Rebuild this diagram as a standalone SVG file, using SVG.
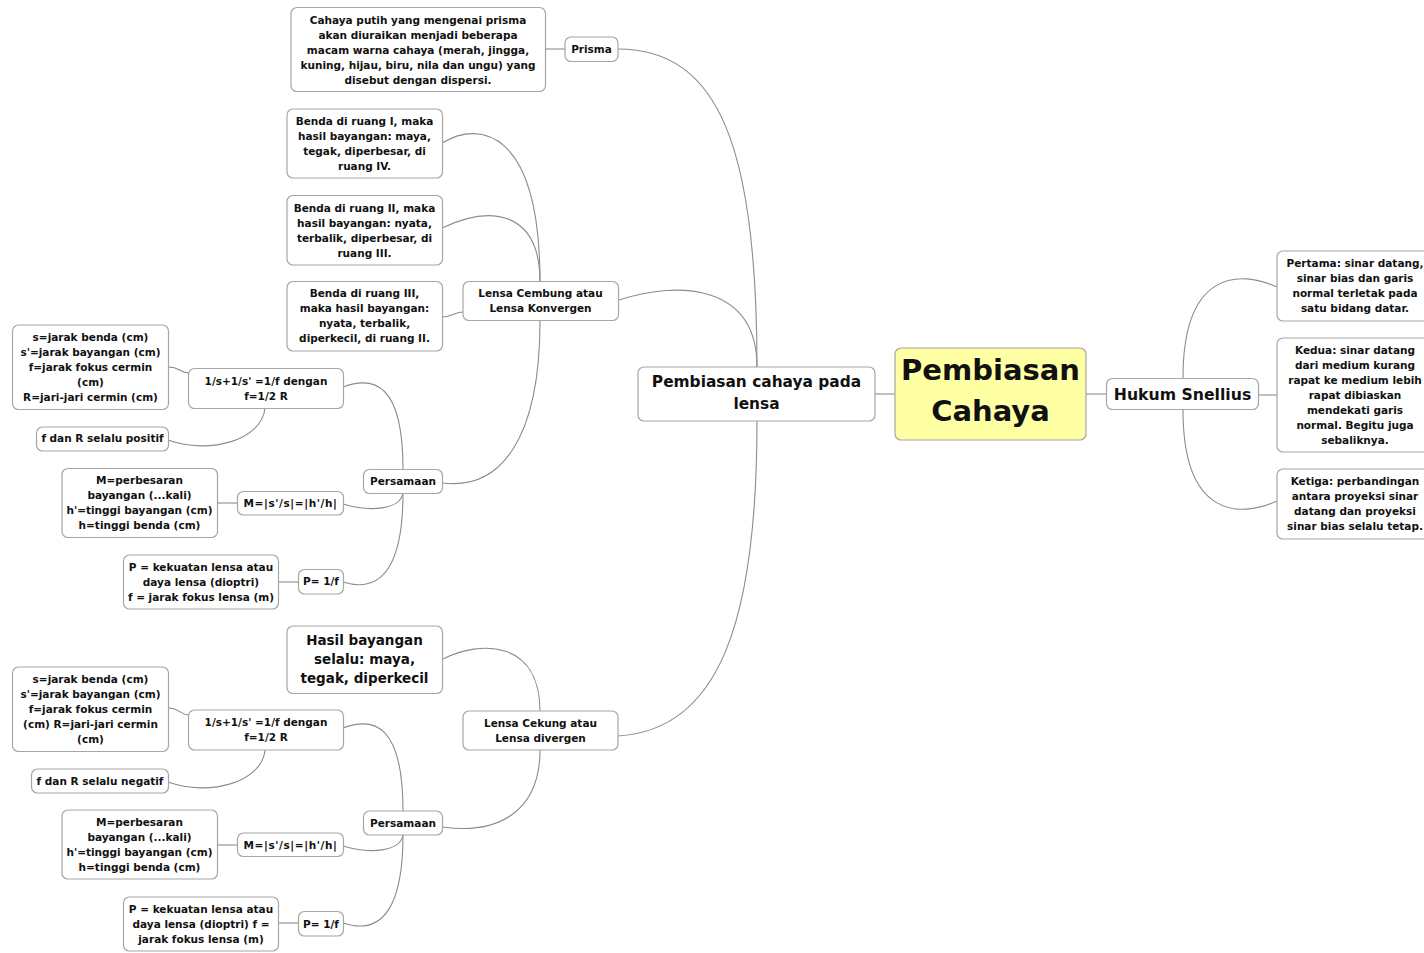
<svg xmlns="http://www.w3.org/2000/svg" width="1424" height="953" viewBox="0 0 1424 953">
<style>
.n{fill:#fff;stroke:#a6a6a6;stroke-width:1.2}
.c{fill:#ffffa3;stroke:#a6a6a6;stroke-width:1.2}
text{font-family:"DejaVu Sans",Verdana,sans-serif;font-weight:bold;fill:#111;text-anchor:middle}
.s{font-size:10.5px}
.m{font-size:13.5px}
.l{font-size:15.4px}
.h{font-size:29px}
.w{letter-spacing:0.6px}
.e path{fill:none;stroke:#8c8c8c;stroke-width:1.1}
</style>
<rect width="1424" height="953" fill="#fff"/>
<g class="e" id="connectors">
<path d="M875,394 L895,394"/>
<path d="M1086,394 L1106,394"/>
<path d="M1183,378 C1183,270 1240,270 1277,287"/>
<path d="M1259,395 L1277,395"/>
<path d="M1183,410 C1183,518 1240,518 1277,501"/>
<path d="M757,367 C757,150 720,49 618,49"/>
<path d="M545,49 L565,49"/>
<path d="M619,300 C680,280 757,285 757,367"/>
<path d="M757,421 C757,620 720,730 618,736"/>
<path d="M442,143 C480,120 540,130 540,282"/>
<path d="M442,228 C490,205 540,210 540,282"/>
<path d="M442,317 C452,317 455,312 463,312"/>
<path d="M540,321 C540,440 500,490 443,483"/>
<path d="M343,387 C375,375 403,385 403,469"/>
<path d="M168,367 C180,367 180,373 189,373"/>
<path d="M265,408 C262,440 210,455 168,440"/>
<path d="M403,493 C400,510 370,512 343,504"/>
<path d="M217,503 L237,503"/>
<path d="M403,493 C403,560 385,595 343,582"/>
<path d="M278,582 L298,582"/>
<path d="M443,659 C480,640 540,640 540,711"/>
<path d="M540,750 C540,810 500,835 443,827"/>
<path d="M343,728 C375,716 403,726 403,811"/>
<path d="M168,708 C180,708 180,715 189,715"/>
<path d="M265,750 C262,782 210,797 168,782"/>
<path d="M403,835 C400,852 370,854 343,846"/>
<path d="M217,845 L237,845"/>
<path d="M403,835 C403,902 385,937 343,923"/>
<path d="M278,923 L298,923"/>
</g>
<g id="central"><rect class="c" x="895" y="348" width="191" height="92" rx="6"/><text class="h" x="990.5" y="380">Pembiasan</text><text class="h" x="990.5" y="421">Cahaya</text></g>
<g id="lensa"><rect class="n" x="638" y="367" width="237" height="54" rx="6"/><text class="l" x="756.5" y="387">Pembiasan cahaya pada</text><text class="l" x="756.5" y="409">lensa</text></g>
<g id="snellius"><rect class="n" x="1106.5" y="378.5" width="152" height="31" rx="6"/><text class="l" x="1182.5" y="399.5" style="font-size:15.7px">Hukum Snellius</text></g>
<g id="pertama"><rect class="n" x="1277" y="251" width="156" height="70" rx="6"/><text class="s" x="1355" y="267">Pertama: sinar datang,</text><text class="s" x="1355" y="282">sinar bias dan garis</text><text class="s" x="1355" y="297">normal terletak pada</text><text class="s" x="1355" y="312">satu bidang datar.</text></g>
<g id="kedua"><rect class="n" x="1277" y="338" width="156" height="114" rx="6"/><text class="s" x="1355" y="353.5">Kedua: sinar datang</text><text class="s" x="1355" y="368.5">dari medium kurang</text><text class="s" x="1355" y="383.5">rapat ke medium lebih</text><text class="s" x="1355" y="398.5">rapat dibiaskan</text><text class="s" x="1355" y="413.5">mendekati garis</text><text class="s" x="1355" y="428.5">normal. Begitu juga</text><text class="s" x="1355" y="443.5">sebaliknya.</text></g>
<g id="ketiga"><rect class="n" x="1277" y="469" width="156" height="70" rx="6"/><text class="s" x="1355" y="485">Ketiga: perbandingan</text><text class="s" x="1355" y="500">antara proyeksi sinar</text><text class="s" x="1355" y="515">datang dan proyeksi</text><text class="s" x="1355" y="530">sinar bias selalu tetap.</text></g>
<g id="prisma"><rect class="n" x="565" y="37" width="53" height="24.5" rx="6"/><text class="s" x="591.5" y="53">Prisma</text></g>
<g id="dispersi"><rect class="n" x="291" y="7.5" width="254.5" height="84" rx="6"/><text class="s" x="418" y="24">Cahaya putih yang mengenai prisma</text><text class="s" x="418" y="39">akan diuraikan menjadi beberapa</text><text class="s" x="418" y="54">macam warna cahaya (merah, jingga,</text><text class="s" x="418" y="69">kuning, hijau, biru, nila dan ungu) yang</text><text class="s" x="418" y="84">disebut dengan dispersi.</text></g>
<g id="cembung"><rect class="n" x="463" y="281.5" width="155.5" height="39" rx="6"/><text class="s" x="540.5" y="297">Lensa Cembung atau</text><text class="s" x="540.5" y="312">Lensa Konvergen</text></g>
<g id="ruang1"><rect class="n" x="287" y="109" width="155.5" height="69" rx="6"/><text class="s" x="364.5" y="125">Benda di ruang I, maka</text><text class="s" x="364.5" y="140">hasil bayangan: maya,</text><text class="s" x="364.5" y="155">tegak, diperbesar, di</text><text class="s" x="364.5" y="170">ruang IV.</text></g>
<g id="ruang2"><rect class="n" x="287" y="195.5" width="155.5" height="69.5" rx="6"/><text class="s" x="364.5" y="211.5">Benda di ruang II, maka</text><text class="s" x="364.5" y="226.5">hasil bayangan: nyata,</text><text class="s" x="364.5" y="241.5">terbalik, diperbesar, di</text><text class="s" x="364.5" y="256.5">ruang III.</text></g>
<g id="ruang3"><rect class="n" x="287" y="281.5" width="155.5" height="69.5" rx="6"/><text class="s" x="364.5" y="297">Benda di ruang III,</text><text class="s" x="364.5" y="312">maka hasil bayangan:</text><text class="s" x="364.5" y="327">nyata, terbalik,</text><text class="s" x="364.5" y="342">diperkecil, di ruang II.</text></g>
<g id="persamaan1"><rect class="n" x="363.5" y="469.5" width="79" height="24" rx="6"/><text class="s" x="403" y="485">Persamaan</text></g>
<g id="rumus1"><rect class="n" x="188.5" y="368.5" width="155" height="40" rx="6"/><text class="s" x="266" y="384.5">1/s+1/s' =1/f dengan</text><text class="s" x="266" y="399.5">f=1/2 R</text></g>
<g id="ket1"><rect class="n" x="12.5" y="325" width="156" height="84.5" rx="6"/><text class="s" x="90.5" y="341">s=jarak benda (cm)</text><text class="s" x="90.5" y="356">s'=jarak bayangan (cm)</text><text class="s" x="90.5" y="371">f=jarak fokus cermin</text><text class="s" x="90.5" y="386">(cm)</text><text class="s" x="90.5" y="401">R=jari-jari cermin (cm)</text></g>
<g id="positif"><rect class="n" x="36.5" y="427" width="132" height="24" rx="6"/><text class="s" x="102.5" y="442">f dan R selalu positif</text></g>
<g id="mag1"><rect class="n" x="237.5" y="491.5" width="106" height="23.5" rx="6"/><text class="s w" x="290.5" y="507">M=|s'/s|=|h'/h|</text></g>
<g id="magket1"><rect class="n" x="62" y="468.5" width="155.5" height="69" rx="6"/><text class="s" x="139.5" y="484">M=perbesaran</text><text class="s" x="139.5" y="499">bayangan (...kali)</text><text class="s" x="139.5" y="514">h'=tinggi bayangan (cm)</text><text class="s" x="139.5" y="529">h=tinggi benda (cm)</text></g>
<g id="p1"><rect class="n" x="298.5" y="569.5" width="45" height="24.5" rx="6"/><text class="s" x="321" y="585">P= 1/f</text></g>
<g id="pket1"><rect class="n" x="123.5" y="555" width="155" height="54" rx="6"/><text class="s" x="201" y="571">P = kekuatan lensa atau</text><text class="s" x="201" y="586">daya lensa (dioptri)</text><text class="s" x="201" y="601">f = jarak fokus lensa (m)</text></g>
<g id="cekung"><rect class="n" x="463" y="711" width="155" height="39" rx="6"/><text class="s" x="540.5" y="726.5">Lensa Cekung atau</text><text class="s" x="540.5" y="741.5">Lensa divergen</text></g>
<g id="hasil"><rect class="n" x="287" y="626" width="155.5" height="67.5" rx="6"/><text class="m" x="364.5" y="645">Hasil bayangan</text><text class="m" x="364.5" y="664">selalu: maya,</text><text class="m" x="364.5" y="683">tegak, diperkecil</text></g>
<g id="persamaan2"><rect class="n" x="363.5" y="811" width="79" height="24" rx="6"/><text class="s" x="403" y="826.5">Persamaan</text></g>
<g id="rumus2"><rect class="n" x="188.5" y="710" width="155" height="40" rx="6"/><text class="s" x="266" y="726">1/s+1/s' =1/f dengan</text><text class="s" x="266" y="741">f=1/2 R</text></g>
<g id="ket2"><rect class="n" x="12.5" y="667" width="156" height="84.5" rx="6"/><text class="s" x="90.5" y="682.5">s=jarak benda (cm)</text><text class="s" x="90.5" y="697.5">s'=jarak bayangan (cm)</text><text class="s" x="90.5" y="712.5">f=jarak fokus cermin</text><text class="s" x="90.5" y="727.5">(cm) R=jari-jari cermin</text><text class="s" x="90.5" y="742.5">(cm)</text></g>
<g id="negatif"><rect class="n" x="31.5" y="769" width="137" height="24" rx="6"/><text class="s" x="100" y="784.5">f dan R selalu negatif</text></g>
<g id="mag2"><rect class="n" x="237.5" y="833" width="106" height="23.5" rx="6"/><text class="s w" x="290.5" y="848.5">M=|s'/s|=|h'/h|</text></g>
<g id="magket2"><rect class="n" x="62" y="810" width="155.5" height="69" rx="6"/><text class="s" x="139.5" y="826">M=perbesaran</text><text class="s" x="139.5" y="841">bayangan (...kali)</text><text class="s" x="139.5" y="856">h'=tinggi bayangan (cm)</text><text class="s" x="139.5" y="871">h=tinggi benda (cm)</text></g>
<g id="p2"><rect class="n" x="298.5" y="911.5" width="45" height="24.5" rx="6"/><text class="s" x="321" y="927.5">P= 1/f</text></g>
<g id="pket2"><rect class="n" x="123.5" y="897" width="155" height="54" rx="6"/><text class="s" x="201" y="913">P = kekuatan lensa atau</text><text class="s" x="201" y="928">daya lensa (dioptri) f =</text><text class="s" x="201" y="943">jarak fokus lensa (m)</text></g>
</svg>
